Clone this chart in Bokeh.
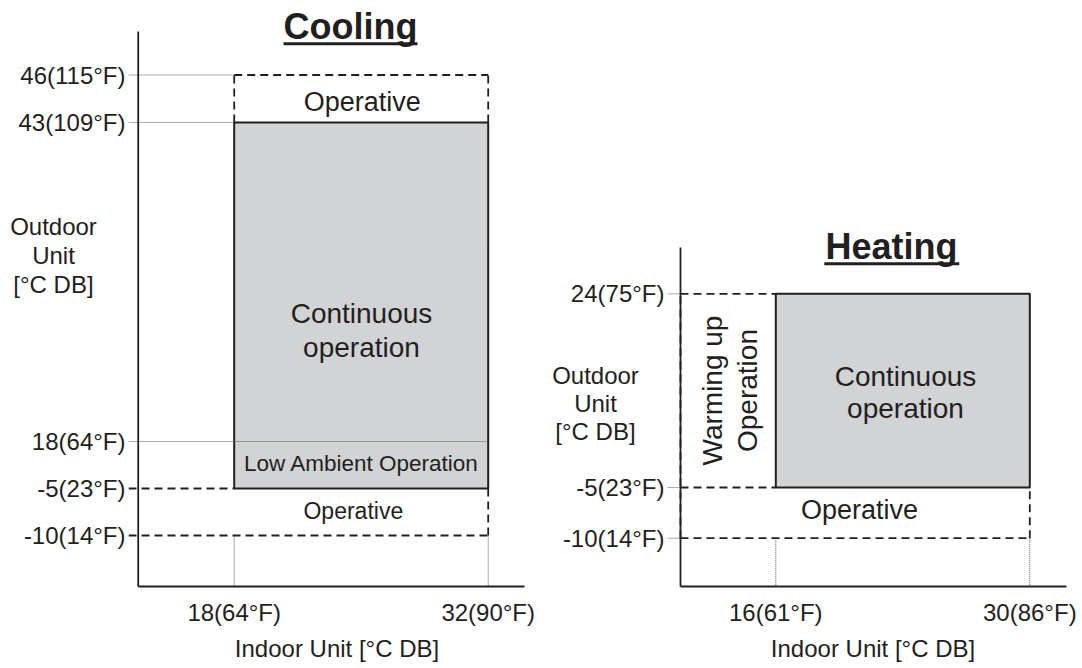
import numpy as np
from bokeh.plotting import figure
from bokeh.models import FixedTicker, Range1d, CustomJSTickFormatter
from bokeh.layouts import row
from bokeh.core.properties import value
from bokeh.embed import file_html
from bokeh.resources import INLINE

# ---------------- data ----------------
# Cooling (temperatures in deg C)
cool_indoor = [18, 32]
cool_indoor_labels = ["18(64°F)", "32(90°F)"]
cool_outdoor = [-10, -5, 18, 43, 46]
cool_outdoor_labels = ["-10(14°F)", "-5(23°F)", "18(64°F)", "43(109°F)", "46(115°F)"]
cool_operative_max = 46
cool_continuous_max = 43
cool_low_ambient_max = 18
cool_continuous_min = -5
cool_operative_min = -10

# Heating (temperatures in deg C)
heat_indoor = [16, 30]
heat_indoor_labels = ["16(61°F)", "30(86°F)"]
heat_outdoor = [-10, -5, 24]
heat_outdoor_labels = ["-10(14°F)", "-5(23°F)", "24(75°F)"]
heat_continuous_max = 24
heat_continuous_min = -5
heat_operative_min = -10

# ---------------- schematic (not-to-scale) outdoor axis ----------------
COOL_SLOTS = [0, 1, 2, 8.787, 9.798]
HEAT_SLOTS = [0, 1, 4.82]


def cpos(t):
    return float(np.interp(t, cool_outdoor, COOL_SLOTS))


def hpos(t):
    return float(np.interp(t, heat_outdoor, HEAT_SLOTS))


FONT = "Liberation Sans"
INK = "#231f20"
FILL = "#d1d3d4"
DOT = "#5a5a5a"
DOTDASH = "1 1"
DASH = "8 5"


def formatter(tick_values, tick_labels):
    return CustomJSTickFormatter(
        args=dict(tv=list(tick_values), tl=list(tick_labels)),
        code="""
        let best = 0;
        for (let i = 0; i < tv.length; i++) {
            if (Math.abs(tv[i] - tick) < Math.abs(tv[best] - tick)) best = i;
        }
        return tl[best];
        """,
    )


def make_fig(width, left_border, xr, yr):
    p = figure(width=width, height=666, x_range=Range1d(*xr), y_range=Range1d(*yr),
               output_backend="svg", toolbar_location=None,
               min_border_left=left_border, min_border_right=0,
               min_border_top=8, min_border_bottom=76)
    p.outline_line_color = None
    p.grid.visible = False
    p.background_fill_color = "white"
    p.border_fill_color = "white"
    for ax in (p.xaxis[0], p.yaxis[0]):
        ax.axis_line_color = None
        ax.major_tick_line_color = None
        ax.minor_tick_line_color = None
        ax.major_tick_out = 0
        ax.major_tick_in = 0
        ax.minor_tick_out = 0
        ax.major_label_text_font = FONT
        ax.major_label_text_font_size = "24px"
        ax.major_label_text_color = INK
        ax.axis_label_text_font = FONT
        ax.axis_label_text_font_size = "24px"
        ax.axis_label_text_font_style = "normal"
        ax.axis_label_text_color = INK
    p.yaxis.major_label_standoff = 3
    p.xaxis.major_label_standoff = 8
    p.xaxis.axis_label_standoff = 6
    p.xaxis.axis_label = "Indoor Unit [°C DB]"
    return p


def txt(p, x, y, s, size="27px", style="normal", angle=0.0, lh=1.2, level="glyph"):
    r = p.text(x=[x], y=[y], text=[s], text_font=value(FONT), text_font_size=size,
               text_font_style=style, text_color=INK, text_align="center",
               text_baseline="middle", angle=angle, text_line_height=lh)
    r.level = level
    return r


# ================= Cooling =================
c_x0, c_x1 = 12.174, 35.158
c_y0, c_y1 = -1.170, 11.213
c_axis_x, c_axis_y, c_axis_top, c_axis_right = 12.709, -1.085, 10.723, 34.0
pc = make_fig(545, 128, (c_x0, c_x1), (c_y0, c_y1))

pc.quad(left=[cool_indoor[0]], right=[cool_indoor[1]],
        bottom=[cpos(cool_continuous_min)], top=[cpos(cool_continuous_max)],
        fill_color=FILL, line_color=INK, line_width=2)

# dotted guides
pc.segment(x0=[c_x0, c_x0, c_x0, cool_indoor[0], cool_indoor[1]],
           y0=[cpos(cool_operative_max), cpos(cool_continuous_max), cpos(cool_low_ambient_max),
               cpos(cool_operative_min), cpos(cool_operative_min)],
           x1=[cool_indoor[0], cool_indoor[0], cool_indoor[1], cool_indoor[0], cool_indoor[1]],
           y1=[cpos(cool_operative_max), cpos(cool_continuous_max), cpos(cool_low_ambient_max),
               c_axis_y, c_axis_y],
           line_color=DOT, line_width=1, line_dash=DOTDASH)

# dashed operative boundaries
pc.segment(x0=[cool_indoor[0], cool_indoor[0], cool_indoor[1], c_x0, c_x0, cool_indoor[1]],
           y0=[cpos(cool_operative_max), cpos(cool_continuous_max), cpos(cool_continuous_max),
               cpos(cool_continuous_min), cpos(cool_operative_min), cpos(cool_operative_min)],
           x1=[cool_indoor[1], cool_indoor[0], cool_indoor[1], cool_indoor[0], cool_indoor[1], cool_indoor[1]],
           y1=[cpos(cool_operative_max), cpos(cool_operative_max), cpos(cool_operative_max),
               cpos(cool_continuous_min), cpos(cool_operative_min), cpos(cool_continuous_min)],
           line_color=INK, line_width=1.8, line_dash=DASH)

# axes lines
pc.segment(x0=[c_axis_x, c_axis_x], y0=[c_axis_y, c_axis_y],
           x1=[c_axis_x, c_axis_right], y1=[c_axis_top, c_axis_y],
           line_color=INK, line_width=1.8)

pc.xaxis.ticker = FixedTicker(ticks=cool_indoor)
pc.xaxis.formatter = formatter(cool_indoor, cool_indoor_labels)
c_ticks = [cpos(t) for t in cool_outdoor]
pc.yaxis.ticker = FixedTicker(ticks=c_ticks)
pc.yaxis.formatter = formatter(c_ticks, cool_outdoor_labels)

# title
txt(pc, 24.41, 10.83, "Cooling", size="36px", style="bold")
pc.segment(x0=[20.717], y0=[10.462], x1=[28.103], y1=[10.462], line_color=INK, line_width=3)

txt(pc, 25.055, 9.234, "Operative", size="27px")
txt(pc, 25.017, 4.362, "Continuous\noperation", size="28px", lh=1.09)
txt(pc, 25.017, 1.538, "Low Ambient Operation", size="22.5px")
txt(pc, 24.565, 0.517, "Operative", size="23px")
txt(pc, 8.04, 5.957, "Outdoor\nUnit\n[°C DB]", size="24px", lh=1.09, level="overlay")

# ================= Heating =================
h_x0, h_x1 = 10.031, 32.684
h_y0, h_y1 = -1.0316, 10.448
h_axis_x, h_axis_y, h_axis_top, h_axis_right = 10.747, -0.953, 5.734, 32.02
ph = make_fig(533, 122, (h_x0, h_x1), (h_y0, h_y1))

ph.quad(left=[heat_indoor[0]], right=[heat_indoor[1]],
        bottom=[hpos(heat_continuous_min)], top=[hpos(heat_continuous_max)],
        fill_color=FILL, line_color=INK, line_width=2)

# dotted guides
ph.segment(x0=[h_x0, h_x0, h_x0, heat_indoor[0], heat_indoor[1]],
           y0=[hpos(heat_continuous_max), hpos(heat_continuous_min), hpos(heat_operative_min),
               hpos(heat_operative_min), hpos(heat_operative_min)],
           x1=[h_axis_x, h_axis_x, h_axis_x, heat_indoor[0], heat_indoor[1]],
           y1=[hpos(heat_continuous_max), hpos(heat_continuous_min), hpos(heat_operative_min),
               h_axis_y, h_axis_y],
           line_color=DOT, line_width=1, line_dash=DOTDASH)

# axes lines
ph.segment(x0=[h_axis_x, h_axis_x], y0=[h_axis_y, h_axis_y],
           x1=[h_axis_x, h_axis_right], y1=[h_axis_top, h_axis_y],
           line_color=INK, line_width=1.8)

# dashed boundaries
ph.segment(x0=[h_axis_x, h_axis_x, h_axis_x, heat_indoor[1], h_axis_x],
           y0=[hpos(heat_continuous_max), hpos(heat_continuous_min), hpos(heat_operative_min),
               hpos(heat_operative_min), hpos(heat_operative_min)],
           x1=[heat_indoor[0], heat_indoor[0], heat_indoor[1], heat_indoor[1], h_axis_x],
           y1=[hpos(heat_continuous_max), hpos(heat_continuous_min), hpos(heat_operative_min),
               hpos(heat_continuous_min), hpos(heat_continuous_max)],
           line_color=INK, line_width=1.8, line_dash=DASH)

ph.xaxis.ticker = FixedTicker(ticks=heat_indoor)
ph.xaxis.formatter = formatter(heat_indoor, heat_indoor_labels)
h_ticks = [hpos(t) for t in heat_outdoor]
ph.yaxis.ticker = FixedTicker(ticks=h_ticks)
ph.yaxis.formatter = formatter(h_ticks, heat_outdoor_labels)

txt(ph, 22.377, 5.744, "Heating", size="36px", style="bold")
ph.segment(x0=[18.671], y0=[5.412], x1=[26.112], y1=[5.412], line_color=INK, line_width=3)

txt(ph, 23.149, 2.874, "Continuous\noperation", size="28px", lh=1.02)
txt(ph, 13.476, 2.913, "Warming up\nOperation", size="28px", angle=np.pi / 2, lh=1.13)
txt(ph, 20.613, 0.560, "Operative", size="27px")
txt(ph, 6.062, 2.657, "Outdoor\nUnit\n[°C DB]", size="24px", lh=1.03, level="overlay")

layout = row(pc, ph)
open("out.html", "w").write(file_html(layout, INLINE, title="Operation range"))
